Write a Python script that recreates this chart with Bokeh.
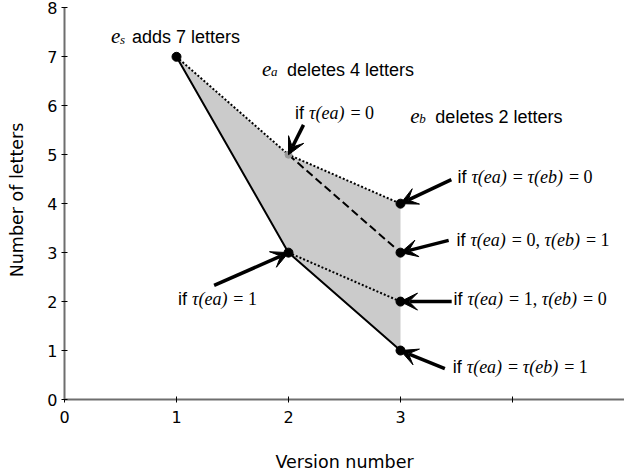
from bokeh.plotting import figure
from bokeh.models import Label, Arrow, VeeHead, FixedTicker, ColumnDataSource
from bokeh.embed import file_html
from bokeh.resources import INLINE

# ---- data ----
versions = [1, 2, 3]
letters_all_one = [7, 3, 1]      # tau(ea)=1, tau(eb)=1 (solid)
letters_all_zero = [7, 5, 4]     # tau(ea)=0, tau(eb)=0 (dotted)
dashed_x = [2, 3]
dashed_y = [5, 3]                # tau(ea)=0, tau(eb)=1
lower_dot_x = [2, 3]
lower_dot_y = [3, 2]             # tau(ea)=1, tau(eb)=0

black_pts_x = [1, 2, 3, 3, 3, 3]
black_pts_y = [7, 3, 4, 3, 2, 1]
gray_pts_x = [2]
gray_pts_y = [5]

x_ticks = [0, 1, 2, 3, 4]
x_tick_labels = {0: "0", 1: "1", 2: "2", 3: "3", 4: ""}
y_ticks = [0, 1, 2, 3, 4, 5, 6, 7, 8]

# arrows: tail -> tip
arr_x0 = [2.134, 3.454, 3.43, 1.336, 3.457, 3.396]
arr_y0 = [5.61, 4.49, 3.25, 2.33, 2.0, 0.63]
arr_x1 = [2, 3, 3, 2, 3, 3]
arr_y1 = [5, 4, 3, 3, 2, 1]

# "if ..." conditional labels (left x, baseline y, math segments: (text, italic))
cond_x = [2.058, 3.508, 3.499, 3.474, 1.013, 3.466]
cond_y = [5.72, 4.41, 3.14, 1.92, 1.92, 0.545]
cond_math = [
    [("τ(ea)", True), (" = 0", False)],
    [("τ(ea)", True), (" = ", False), ("τ(eb)", True), (" = 0", False)],
    [("τ(ea)", True), (" = 0, ", False), ("τ(eb)", True), (" = 1", False)],
    [("τ(ea)", True), (" = 1, ", False), ("τ(eb)", True), (" = 0", False)],
    [("τ(ea)", True), (" = 1", False)],
    [("τ(ea)", True), (" = ", False), ("τ(eb)", True), (" = 1", False)],
]

# event labels
ev_x = [0.415, 1.763, 3.088]
ev_y = [7.27, 6.61, 5.64]
ev_sub = ["s", "a", "b"]
ev_text = ["adds 7 letters", "deletes 4 letters", "deletes 2 letters"]

# approximate advance widths (em) for the serif math font
W_IT = {"τ": 0.44, "(": 0.333, ")": 0.333, "e": 0.444, "a": 0.5, "b": 0.5}
W_RM = {" ": 0.25, "=": 0.564, "0": 0.5, "1": 0.5, ",": 0.25}

# ---- figure ----
p = figure(width=624, height=474, x_range=(0, 5), y_range=(0, 8.15),
           output_backend="svg", toolbar_location=None,
           min_border_left=64, min_border_right=0, min_border_top=0,
           min_border_bottom=0)
p.grid.visible = False
p.outline_line_color = None

shade_x = versions + versions[::-1]
shade_y = letters_all_zero + letters_all_one[::-1]
p.patch(shade_x, shade_y, fill_color="#cbcbcb", line_color=None)

p.line(versions, letters_all_one, line_color="black", line_width=2)
p.line(versions, letters_all_zero, line_color="black", line_width=2, line_dash="2 2")
p.line(dashed_x, dashed_y, line_color="black", line_width=2, line_dash="8 4")
p.line(lower_dot_x, lower_dot_y, line_color="black", line_width=2, line_dash="2 2")

p.scatter(gray_pts_x, gray_pts_y, size=7, color="#9a9a9a")
p.scatter(black_pts_x, black_pts_y, size=9, color="black")

src = ColumnDataSource(dict(x0=arr_x0, y0=arr_y0, x1=arr_x1, y1=arr_y1))
p.add_layout(Arrow(end=VeeHead(size=17, fill_color="black", line_color="black", line_width=1),
                   x_start="x0", y_start="y0", x_end="x1", y_end="y1",
                   source=src, line_color="black", line_width=3.5))


def add_text(x, y, txt, font, size, style="normal", dx=0, dy=0):
    # y is the text baseline; a middle-anchored label is lifted by ~1/3 em
    p.add_layout(Label(x=x, y=y, x_offset=dx, y_offset=dy + round(0.34 * size, 1),
                       text=txt, text_font=font, text_font_size=f"{size}px",
                       text_font_style=style, text_baseline="middle",
                       text_align="left", text_color="black"))


MATH_SIZE = 18
for x, y, segs in zip(cond_x, cond_y, cond_math):
    add_text(x, y, "if", "Liberation Sans", 18)
    off = 14.0
    for txt, it in segs:
        table = W_IT if it else W_RM
        lead = len(txt) - len(txt.lstrip(" "))
        start = off + lead * W_RM[" "] * MATH_SIZE
        body = txt.strip(" ")
        add_text(x, y, body, "Liberation Serif", MATH_SIZE,
                 "italic" if it else "normal", dx=round(start, 1))
        off += sum(table.get(c, W_RM.get(c, 0.5)) for c in txt) * MATH_SIZE

for x, y, s, t in zip(ev_x, ev_y, ev_sub, ev_text):
    add_text(x, y, "e", "Liberation Serif", 21, "italic")
    add_text(x, y, s, "Liberation Serif", 13, "italic", dx=9)
    add_text(x, y, t, "Liberation Sans", 18, dx=21 if s == "s" else 25)

# ---- axes ----
p.xaxis.ticker = FixedTicker(ticks=x_ticks)
p.xaxis.major_label_overrides = x_tick_labels
p.yaxis.ticker = FixedTicker(ticks=y_ticks)
p.yaxis.bounds = (0, 8)
p.xaxis.axis_label = "Version number"
p.yaxis.axis_label = "Number of letters"
for ax in (p.xaxis, p.yaxis):
    ax.axis_line_color = "#6e6e6e"
    ax.axis_line_width = 2
    ax.major_tick_line_color = "black"
    ax.major_tick_line_width = 1
    ax.major_tick_in = 3
    ax.major_tick_out = 3
    ax.minor_tick_line_color = None
    ax.major_label_text_font = "DejaVu Sans"
    ax.major_label_text_font_size = "16px"
    ax.major_label_text_color = "black"
    ax.axis_label_text_font = "DejaVu Sans"
    ax.axis_label_text_font_size = "17.5px"
    ax.axis_label_text_font_style = "normal"
    ax.axis_label_text_color = "black"
p.xaxis.major_label_standoff = 8
p.xaxis.axis_label_standoff = 26
p.yaxis.major_label_standoff = 4
p.yaxis.axis_label_standoff = 17

open("out.html", "w").write(file_html(p, INLINE))
